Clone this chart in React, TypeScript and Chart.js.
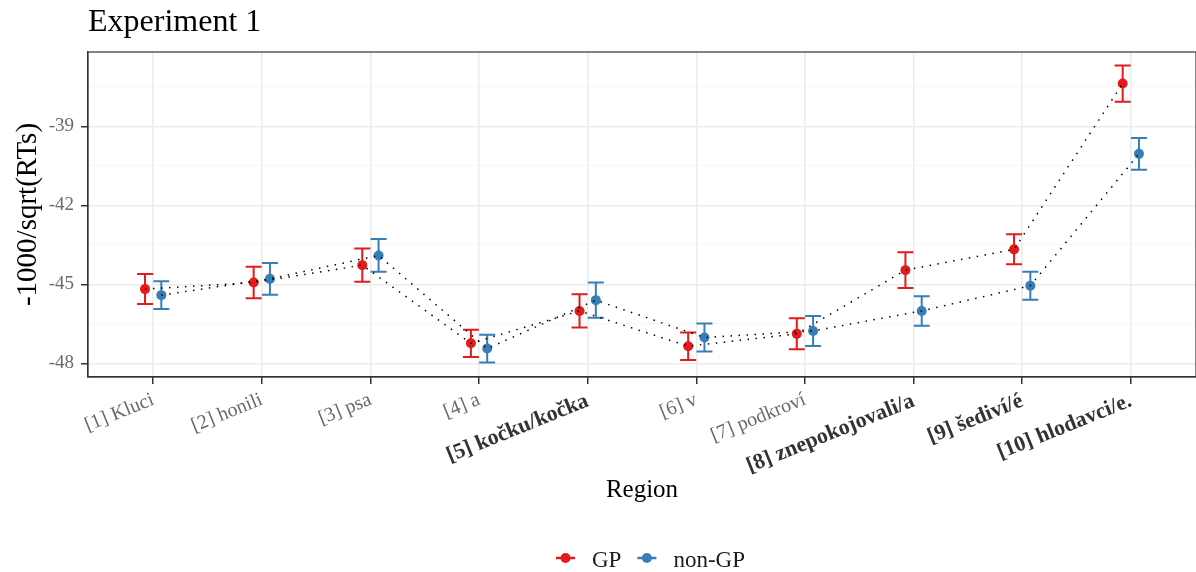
import React, { useEffect, useRef } from 'react';
import { Chart, registerables } from 'chart.js';

Chart.register(...registerables);

const SERIF = "'Liberation Serif', 'Times New Roman', serif";

// ---- data ----
const regions = [
  '[1] Kluci',
  '[2] honili',
  '[3] psa',
  '[4] a',
  '[5] kočku/kočka',
  '[6] v',
  '[7] podkroví',
  '[8] znepokojovali/a',
  '[9] šediví/é',
  '[10] hlodavci/e.',
];
const boldRegions = [false, false, false, false, true, false, false, true, true, true];

const gpMean = [-45.18, -44.93, -44.27, -47.24, -46.01, -47.35, -46.88, -44.46, -43.67, -37.37];
const gpErr = [0.57, 0.6, 0.63, 0.52, 0.63, 0.52, 0.59, 0.68, 0.57, 0.69];
const nonGpMean = [-45.41, -44.79, -43.9, -47.44, -45.6, -47.02, -46.77, -46.01, -45.05, -40.04];
const nonGpErr = [0.53, 0.6, 0.62, 0.53, 0.67, 0.53, 0.57, 0.56, 0.53, 0.6];

const yMajorTicks = [-48, -45, -42, -39];
const yMinorTicks = [-46.5, -43.5, -40.5, -37.5];

const seriesLabels = ['GP', 'non-GP'];
const seriesColors = ['#E41A1C', '#377EB8'];

// ---- layout / style constants ----
const DODGE = 0.075;
const LEGEND_X = 556;
const LEGEND_Y = 558;

const series = [
  { label: seriesLabels[0], color: seriesColors[0], mean: gpMean, err: gpErr, offset: -DODGE },
  { label: seriesLabels[1], color: seriesColors[1], mean: nonGpMean, err: nonGpErr, offset: DODGE },
];

const errorBarPlugin = {
  id: 'errorBars',
  beforeDatasetsDraw(chart: any) {
    const { ctx, scales } = chart;
    const xs = scales.x;
    const ys = scales.y;
    ctx.save();
    ctx.lineWidth = 2;
    ctx.lineCap = 'butt';
    series.forEach((s) => {
      ctx.strokeStyle = s.color;
      s.mean.forEach((m, i) => {
        const px = xs.getPixelForValue(i + 1 + s.offset);
        const pTop = ys.getPixelForValue(m + s.err[i]);
        const pBot = ys.getPixelForValue(m - s.err[i]);
        const half = 8;
        ctx.beginPath();
        ctx.moveTo(px, pTop);
        ctx.lineTo(px, pBot);
        ctx.moveTo(px - half, pTop);
        ctx.lineTo(px + half, pTop);
        ctx.moveTo(px - half, pBot);
        ctx.lineTo(px + half, pBot);
        ctx.stroke();
      });
    });
    ctx.restore();
  },
};

const framePlugin = {
  id: 'panelFrame',
  afterDraw(chart: any) {
    const { ctx, chartArea } = chart;
    ctx.save();
    ctx.strokeStyle = '#333333';
    ctx.lineWidth = 1.2;
    ctx.strokeRect(chartArea.left, chartArea.top, chartArea.right - chartArea.left, chartArea.bottom - chartArea.top);
    ctx.restore();
  },
};

const legendPlugin = {
  id: 'customLegend',
  afterDraw(chart: any) {
    const ctx = chart.ctx;
    ctx.save();
    ctx.font = `23px ${SERIF}`;
    ctx.textBaseline = 'alphabetic';
    ctx.textAlign = 'left';
    let x = LEGEND_X;
    const y = LEGEND_Y;
    series.forEach((s) => {
      ctx.strokeStyle = s.color;
      ctx.lineWidth = 2.5;
      ctx.beginPath();
      ctx.moveTo(x, y);
      ctx.lineTo(x + 19, y);
      ctx.stroke();
      ctx.fillStyle = s.color;
      ctx.beginPath();
      ctx.arc(x + 9.5, y, 5, 0, Math.PI * 2);
      ctx.fill();
      x += 19 + 17;
      ctx.fillStyle = '#1a1a1a';
      ctx.fillText(s.label, x, y + 9);
      x += ctx.measureText(s.label).width + 16;
    });
    ctx.restore();
  },
};

export default function App() {
  const canvasRef = useRef<HTMLCanvasElement | null>(null);

  useEffect(() => {
    const canvas = canvasRef.current;
    if (!canvas) return;

    const datasets: any[] = [];
    series.forEach((s) => {
      const pts = s.mean.map((m, i) => ({ x: i + 1 + s.offset, y: m }));
      datasets.push({
        label: s.label + ' line',
        data: pts,
        showLine: true,
        borderColor: '#000000',
        borderWidth: 1.5,
        borderDash: [1.5, 6.5],
        pointRadius: 0,
        fill: false,
        order: 0,
      });
      datasets.push({
        label: s.label,
        data: pts,
        showLine: false,
        pointRadius: 5,
        pointBackgroundColor: s.color,
        pointBorderColor: s.color,
        pointBorderWidth: 0,
        order: 1,
      });
    });

    const isMajor = (v: number) => yMajorTicks.includes(v);

    const chart = new Chart(canvas, {
      type: 'scatter',
      data: { datasets },
      options: {
        responsive: false,
        animation: false,
        devicePixelRatio: 1,
        events: [],
        layout: { autoPadding: false, padding: { left: 0, right: 0, top: 0, bottom: 67 } },
        plugins: {
          legend: { display: false },
          tooltip: { enabled: false },
          title: {
            display: true,
            text: 'Experiment 1',
            align: 'start',
            fullSize: false,
            color: '#000000',
            font: { family: SERIF, size: 32, weight: 'normal', lineHeight: 1.2 },
            padding: { top: 3, bottom: 10.6 },
          },
        },
        scales: {
          x: {
            type: 'linear',
            min: 0.4,
            max: 10.6,
            bounds: 'data',
            afterBuildTicks: (s: any) => {
              s.ticks = regions.map((_, i) => ({ value: i + 1 }));
            },
            afterFit: (s: any) => {
              s.height = 128;
              s.paddingLeft = 0;
              s.paddingRight = 0;
            },
            grid: {
              color: '#ebebeb',
              lineWidth: 1.5,
              tickColor: '#333333',
              tickLength: 7,
              tickWidth: 1.5,
            },
            border: { display: true, color: '#333333', width: 1.2 },
            ticks: {
              autoSkip: false,
              minRotation: 22,
              maxRotation: 22,
              padding: 4,
              color: (c: any) => (boldRegions[c.index] ? '#333333' : '#6a6a6a'),
              font: (c: any) => ({
                family: SERIF,
                size: boldRegions[c.index] ? 22 : 20,
                weight: boldRegions[c.index] ? 'bold' : 'normal',
              }),
              callback: (v: any) => regions[Math.round(Number(v)) - 1] ?? '',
            },
            title: {
              display: true,
              text: 'Region',
              color: '#000000',
              font: { family: SERIF, size: 25, lineHeight: 1.2 },
              padding: { top: 0, bottom: 0 },
            },
          },
          y: {
            type: 'linear',
            min: -48.52,
            max: -36.17,
            bounds: 'data',
            afterBuildTicks: (s: any) => {
              s.ticks = [...yMajorTicks, ...yMinorTicks]
                .sort((a, b) => a - b)
                .map((v) => ({ value: v }));
            },
            afterFit: (s: any) => {
              s.width = 88;
            },
            grid: {
              color: (c: any) => (c.tick && isMajor(c.tick.value) ? '#ebebeb' : '#f4f4f4'),
              lineWidth: (c: any) => (c.tick && isMajor(c.tick.value) ? 1.5 : 0.8),
              tickColor: (c: any) => (c.tick && isMajor(c.tick.value) ? '#333333' : 'rgba(0,0,0,0)'),
              tickLength: 7,
              tickWidth: 1.5,
            },
            border: { display: true, color: '#333333', width: 1.2 },
            ticks: {
              autoSkip: false,
              padding: 7,
              color: '#6a6a6a',
              font: { family: SERIF, size: 19 },
              callback: (v: any) => (isMajor(Number(v)) ? String(v) : ''),
            },
            title: {
              display: true,
              text: '-1000/sqrt(RTs)',
              color: '#000000',
              font: { family: SERIF, size: 29, lineHeight: 1.2 },
              padding: { top: 11, bottom: 0 },
            },
          },
        },
      } as any,
      plugins: [errorBarPlugin, framePlugin, legendPlugin],
    });

    return () => {
      chart.destroy();
    };
  }, []);

  return (
    <div style={{ position: 'fixed', left: 0, top: 0, width: 1196, height: 572, background: '#ffffff' }}>
      <canvas ref={canvasRef} width={1196} height={572} style={{ display: 'block' }} />
    </div>
  );
}
